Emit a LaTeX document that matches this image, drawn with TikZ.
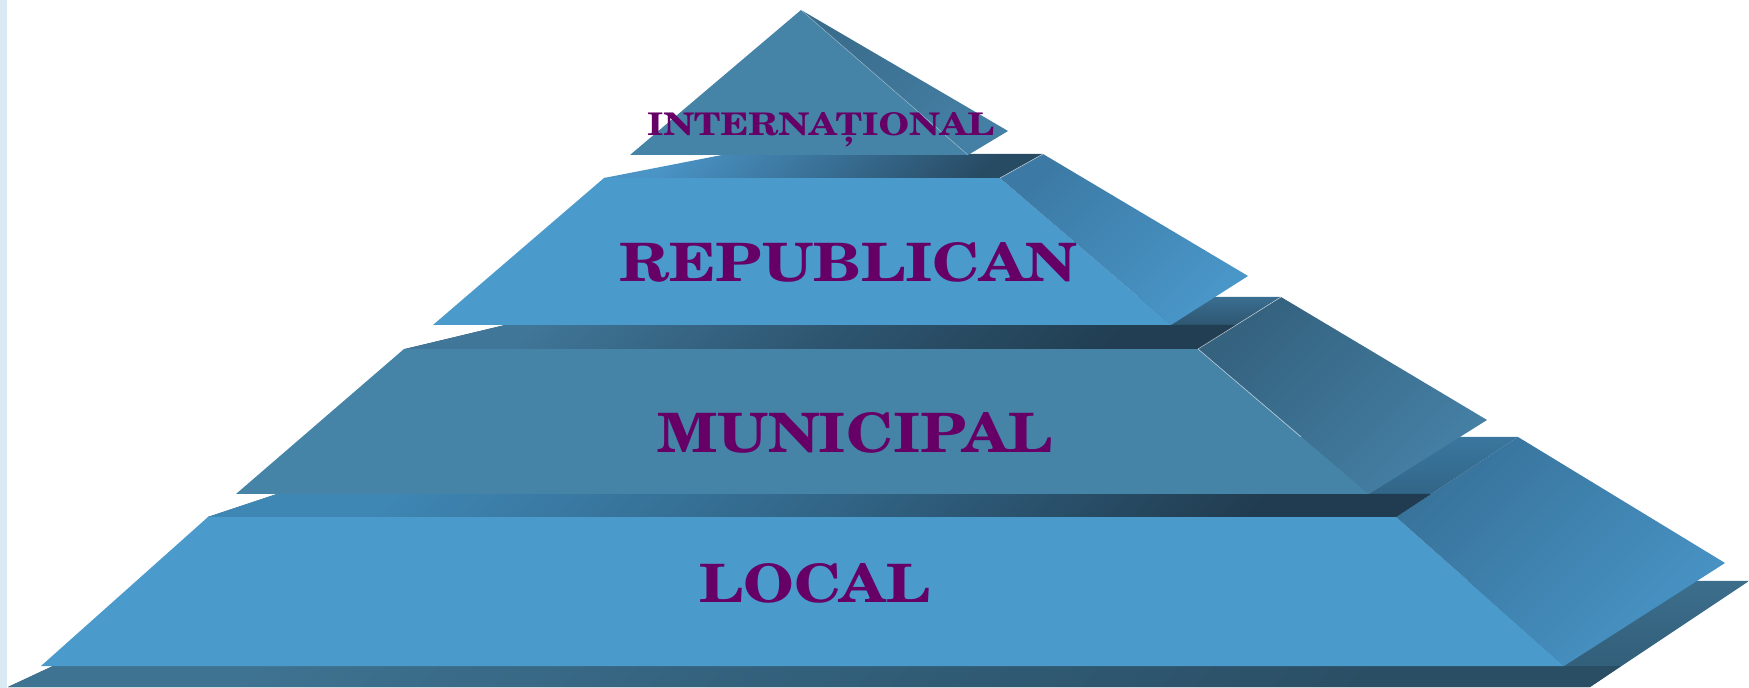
\documentclass[tikz,border=0pt]{standalone}
\usepackage{graphicx}
\usepackage{fontspec}
\newfontfamily\schola{texgyreschola-bold.otf}
\definecolor{stripc}{RGB}{218,234,245}
\definecolor{frontL}{RGB}{74,154,203}
\definecolor{frontD}{RGB}{69,131,167}
\definecolor{labelc}{RGB}{102,0,102}
% band colours: T = top-left, M = middle, B = bottom-right, Top = back edge
\definecolor{bandAT}{RGB}{74,148,198}
\definecolor{bandAM}{RGB}{57,112,150}
\definecolor{bandAB}{RGB}{40,75,100}
\definecolor{bandBT}{RGB}{64,118,152}
\definecolor{bandBM}{RGB}{46,86,113}
\definecolor{bandBB}{RGB}{33,62,82}
\definecolor{bandBTop}{RGB}{58,110,145}
\definecolor{bandCT}{RGB}{62,134,180}
\definecolor{bandCM}{RGB}{50,102,136}
\definecolor{bandCB}{RGB}{33,60,80}
\definecolor{bandCTop}{RGB}{58,118,158}
\definecolor{bandDT}{RGB}{62,115,145}
\definecolor{bandDM}{RGB}{50,95,122}
\definecolor{bandDB}{RGB}{42,78,100}
\definecolor{bandDTop}{RGB}{60,110,140}
\definecolor{sideAa}{RGB}{58,108,140}
\definecolor{sideAb}{RGB}{68,128,165}
\definecolor{sideBa}{RGB}{60,122,165}
\definecolor{sideBb}{RGB}{73,150,200}
\definecolor{sideCa}{RGB}{52,98,127}
\definecolor{sideCb}{RGB}{69,128,165}
\definecolor{sideDa}{RGB}{56,115,155}
\definecolor{sideDb}{RGB}{72,148,198}
% vertical shadings for the back parts of the bands (0bp bottom, 25..75bp = bounding box)
\pgfdeclareverticalshading{backB}{100bp}{color(0bp)=(bandBB); color(25bp)=(bandBB); color(48.1bp)=(bandBM); color(75bp)=(bandBTop); color(100bp)=(bandBTop)}
\pgfdeclareverticalshading{backC}{100bp}{color(0bp)=(bandCB); color(25bp)=(bandCB); color(39.4bp)=(bandCM); color(75bp)=(bandCTop); color(100bp)=(bandCTop)}
\pgfdeclareverticalshading{backD}{100bp}{color(0bp)=(bandDB); color(25bp)=(bandDB); color(34.9bp)=(bandDM); color(75bp)=(bandDTop); color(100bp)=(bandDTop)}
\begin{document}
\begin{tikzpicture}[x=0.5pt,y=-0.5pt,
  stripsh/.style n args={3}{top color=#1, bottom color=#3, middle color=#2, shading angle=45},
  side/.style n args={2}{top color=#1, bottom color=#2, shading angle=45},
  edgeline/.style={white, opacity=0.6, line width=0.3pt},
  lbl/.style={anchor=base west, inner sep=0pt, outer sep=0pt, text=labelc, font=\schola}]
\useasboundingbox (0,0) rectangle (1749,688);
\fill[stripc] (0,0) rectangle (7,688);
% LOCAL tier
\shade[shading=backD] (8,687) -- (235,581) -- (1749,581) -- (1590,687) -- cycle;
\shade[stripsh={bandDT}{bandDM}{bandDB}] (53,666) -- (1621,666) -- (1590,687) -- (8,687) -- cycle;
\fill[frontL] (208,517) -- (1396,517) -- (1564,666) -- (41,666) -- cycle;
\shade[side={sideDa}{sideDb}] (1396,517) -- (1518,437) -- (1725,563) -- (1564,666) -- cycle;
% MUNICIPAL tier
\shade[shading=backC] (208,517) -- (448,437) -- (1518,437) -- (1396,517) -- cycle;
\shade[stripsh={bandCT}{bandCM}{bandCB}] (277,494) -- (1431,494) -- (1396,517) -- (208,517) -- cycle;
\fill[frontD] (404,349) -- (1198,349) -- (1369,494) -- (236,494) -- cycle;
\shade[side={sideCa}{sideCb}] (1198,349) -- (1281,297) -- (1487,420) -- (1369,494) -- cycle;
% REPUBLICAN tier
\shade[shading=backB] (405,349) -- (622,297) -- (1281,297) -- (1198,349) -- cycle;
\shade[stripsh={bandBT}{bandBM}{bandBB}] (505,325) -- (1236,325) -- (1198,349) -- (405,349) -- cycle;
\fill[frontL] (604,178) -- (1000,178) -- (1171,325) -- (433,325) -- cycle;
\shade[side={sideBa}{sideBb}] (1000,178) -- (1043,154) -- (1248,276) -- (1171,325) -- cycle;
% INTERNATIONAL tier
\shade[stripsh={bandAT}{bandAM}{bandAB}] (604,178) -- (727,154) -- (1043,154) -- (1000,178) -- cycle;
\fill[frontD] (801,10) -- (968,155) -- (630,155) -- cycle;
\shade[side={sideAa}{sideAb}] (801,10) -- (1008,131) -- (968,155) -- cycle;
% thin light edges
\draw[edgeline] (1043,154) -- (1000,178);
\draw[edgeline] (1281,297) -- (1198,349) -- (1301,437);
\draw[edgeline, opacity=0.35] (801,10) -- (968,155);
% labels
\node[lbl] (intl) at (647,136) {\resizebox{173.5pt}{11.5pt}{INTERNAȚIONAL}};
\node[lbl] (rep) at (619,282) {\resizebox{229pt}{19.5pt}{REPUBLICAN}};
\node[lbl] (mun) at (657,453) {\resizebox{198pt}{20pt}{MUNICIPAL}};
\node[lbl] (loc) at (699,603) {\resizebox{115.5pt}{19.5pt}{LOCAL}};
\end{tikzpicture}
\end{document}
